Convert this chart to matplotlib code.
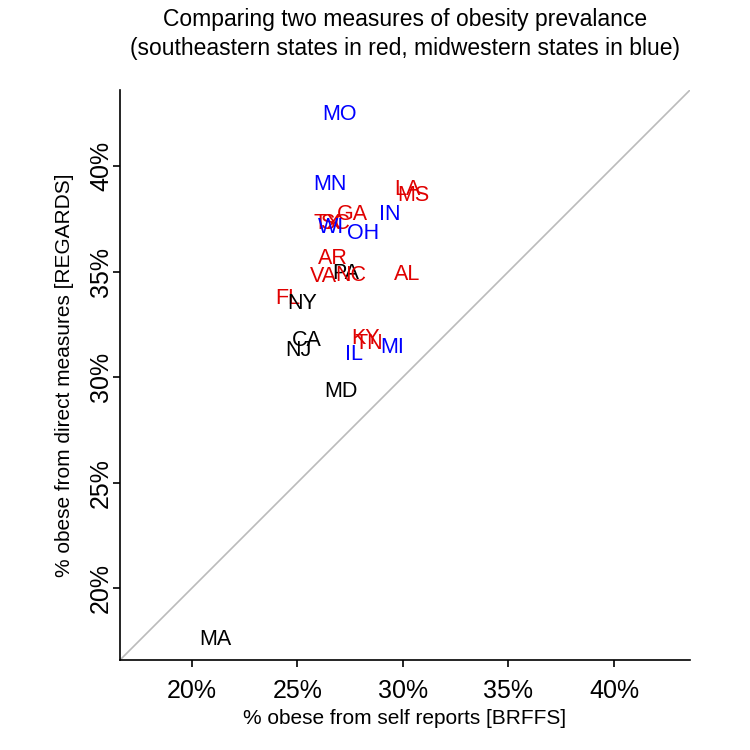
import matplotlib.pyplot as plt
from matplotlib.ticker import FuncFormatter

plt.rcParams['font.family'] = ['Liberation Sans', 'DejaVu Sans']

# -------- DATA --------
states = ["MO", "MN", "LA", "MS", "GA", "IN", "TX", "SC", "WI", "OH",
          "AR", "VA", "PA", "NC", "AL", "FL", "NY", "CA", "NJ", "KY",
          "TN", "MI", "IL", "MD", "MA"]
self_report = [27.0, 26.55, 30.2, 30.5, 27.6, 29.4, 26.4, 26.8, 26.6, 28.1,
               26.7, 26.25, 27.3, 27.55, 30.2, 24.55, 25.25, 25.45, 25.05, 28.25,
               28.4, 29.5, 27.7, 27.05, 21.1]
direct = [42.45, 39.1, 38.9, 38.6, 37.7, 37.7, 37.3, 37.3, 37.1, 36.8,
          35.6, 34.75, 34.9, 34.8, 34.85, 33.7, 33.5, 31.75, 31.25, 31.85,
          31.6, 31.4, 31.05, 29.3, 17.55]
region = ["mw", "mw", "se", "se", "se", "mw", "se", "se", "mw", "mw",
          "se", "se", "other", "se", "se", "se", "other", "other", "other", "se",
          "se", "mw", "mw", "other", "other"]
colors = {"se": "#E00000", "mw": "#0000FF", "other": "black"}

ticks = [20, 25, 30, 35, 40]

# -------- PLOT --------
fig = plt.figure(figsize=(7.5, 7.5), dpi=100)
ax = fig.add_axes([0.16, 0.12, 0.76, 0.76])

lims = (16.6, 43.6)
ax.plot(lims, lims, color="#BBBBBB", lw=1.2, zorder=1)

for s, x, y, r in zip(states, self_report, direct, region):
    ax.text(x, y, s, color=colors[r], fontsize=15.5, ha="center", va="center", zorder=2)

ax.set_xlim(lims)
ax.set_ylim(lims)
ax.set_xticks(ticks)
ax.set_yticks(ticks)
pct = FuncFormatter(lambda v, p: f"{v:.0f}%")
ax.xaxis.set_major_formatter(pct)
ax.yaxis.set_major_formatter(pct)
ax.tick_params(labelsize=18, length=5, width=1.2, direction="out")
ax.tick_params(axis="x", pad=9)
ax.tick_params(axis="y", pad=0)
for lbl in ax.get_yticklabels():
    lbl.set_rotation(90)
    lbl.set_va("center")

ax.spines["top"].set_visible(False)
ax.spines["right"].set_visible(False)
ax.spines["left"].set_linewidth(1.2)
ax.spines["bottom"].set_linewidth(1.2)

ax.set_xlabel("% obese from self reports [BRFFS]", fontsize=15, labelpad=4)
ax.set_ylabel("% obese from direct measures [REGARDS]", fontsize=15, labelpad=11)
ax.set_title("Comparing two measures of obesity prevalance\n(southeastern states in red, midwestern states in blue)",
             fontsize=16.5, pad=25, linespacing=1.35)

fig.savefig("out.png", dpi=100)
